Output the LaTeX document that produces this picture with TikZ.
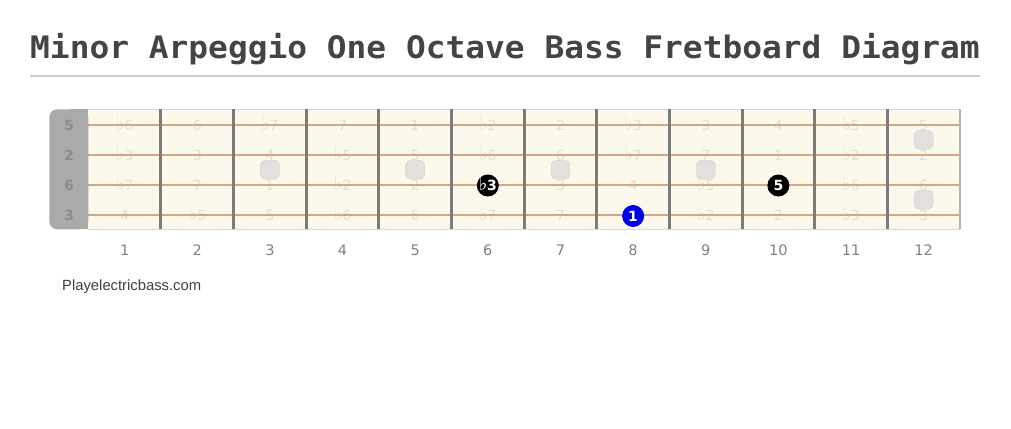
\documentclass[tikz,border=0pt]{standalone}
\usepackage{fontspec}
\usepackage{graphicx}
\setmainfont{DejaVu Sans}
\newfontfamily\titlefont{DejaVu Sans Mono}[FakeStretch=1.06]
\newfontfamily\sitefont{Liberation Sans}
\usetikzlibrary{positioning}
\definecolor{boardcream}{HTML}{FDF8EC}
\definecolor{stringtan}{HTML}{D2A784}
\definecolor{fretgray}{HTML}{7C7B78}
\definecolor{nutgray}{HTML}{AAAAAA}
\definecolor{ghostnote}{HTML}{E3DED4}
\definecolor{titlegray}{HTML}{444444}
\definecolor{inlaygray}{HTML}{E1E0DC}
\definecolor{rootblue}{HTML}{0000F0}
\newcommand{\flt}{\smash{\scalebox{1.35}{♭}}\kern-0.5pt}

\begin{document}
\begin{tikzpicture}[x=1pt, y=-1pt,
    notelbl/.style={inner sep=0pt, text=ghostnote, font=\fontsize{14}{14}\selectfont},
    nutlbl/.style={inner sep=0pt, text=black!45, font=\bfseries\fontsize{14}{14}\selectfont},
    fretnum/.style={inner sep=0pt, text=black!50, font=\fontsize{14.5}{15}\selectfont},
    inlay/.style={rectangle, rounded corners=5pt, minimum size=19pt, inner sep=0pt, fill=inlaygray, draw=black!18},
    tonedot/.style={circle, minimum size=22pt, inner sep=0pt, fill=black, text=white, font=\bfseries\fontsize{14}{14}\selectfont},
    rootdot/.style={tonedot, fill=rootblue}]
\useasboundingbox (0,0) rectangle (1011,428);

% Title and rule
\node[anchor=base west, inner sep=0pt, text=titlegray, font=\titlefont\bfseries\fontsize{31}{31}\selectfont] (title) at (30,59) {Minor Arpeggio One Octave Bass Fretboard Diagram};
\draw[line width=2pt, black!20] (30,76) -- (980,76);

% Fretboard background
\fill[boardcream] (88.3,109.3) rectangle (960,229.3);
\draw[black!15] (88.3,109.3) -- (960,109.3);
\draw[black!15] (88.3,229.3) -- (960,229.3);

% Interval labels on every fret
\foreach \r/\y/\notes in {1/124.7/{\flt6,6,\flt7,7,1,\flt2,2,\flt3,3,4,\flt5,5},
                          2/154.7/{\flt3,3,4,\flt5,5,\flt6,6,\flt7,7,1,\flt2,2},
                          3/184.7/{\flt7,7,1,\flt2,2,\flt3,3,4,\flt5,5,\flt6,6},
                          4/214.7/{4,\flt5,5,\flt6,6,\flt7,7,1,\flt2,2,\flt3,3}} {
    \foreach \n [count=\f] in \notes {
        \node[notelbl] (c\r-\f) at ({88.3+(\f-0.5)*72.64},\y+1) {\n};
    }
}

% Strings
\foreach \y in {124.7,154.7,184.7,214.7} {
    \draw[line width=2pt, stringtan] (86,\y) -- (960,\y);
}

% Frets
\foreach \f in {1,...,11} {
    \draw[line width=3pt, fretgray] ({88.3+\f*72.64},109.3) -- ({88.3+\f*72.64},229.3);
}
\draw[line width=2.5pt, black!30] (960,109.3) -- (960,229.3);

% Position markers
\foreach \f/\y in {3/169.7, 5/169.7, 7/169.7, 9/169.7, 12/139.7, 12/199.7} {
    \node[inlay] (m\f-\y) at ({88.3+(\f-0.5)*72.64},\y) {};
}

% Nut with open string names
\fill[nutgray, rounded corners=8pt] (49.3,109.3) rectangle (88.3,229.3);
\fill[nutgray] (70,109.3) rectangle (88.3,229.3);
\foreach \s/\y in {5/124.7, 2/154.7, 6/184.7, 3/214.7} {
    \node[nutlbl] (open\s) at (69,\y+1) {\s};
}

% Arpeggio notes
\node[tonedot] (third) at ({88.3+5.5*72.64},185.5) {\flt3};
\node[tonedot] (fifth) at ({88.3+9.5*72.64},185.5) {5};
\node[rootdot] (root) at ({88.3+7.5*72.64},216) {1};

% Fret numbers
\foreach \f in {1,...,12} {
    \node[fretnum] (fn\f) at ({88.3+(\f-0.5)*72.64},250) {\f};
}

% Site name
\node[anchor=base west, inner sep=0pt, text=black!75, font=\sitefont\fontsize{14.8}{15}\selectfont] (site) at (62,290) {Playelectricbass.com};

\end{tikzpicture}
\end{document}
